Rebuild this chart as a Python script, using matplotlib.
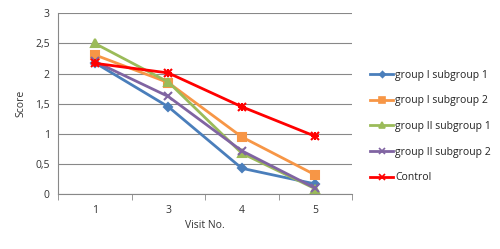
import numpy as np
import matplotlib.pyplot as plt
from matplotlib.lines import Line2D

visits = ["1", "3", "4", "5"]
g1_s1 = [2.18, 1.45, 0.43, 0.17]
g1_s2 = [2.31, 1.85, 0.95, 0.32]
g2_s1 = [2.50, 1.86, 0.68, 0.09]
g2_s2 = [2.20, 1.62, 0.72, 0.10]
control = [2.17, 2.01, 1.45, 0.96]
y_ticks = [0, 0.5, 1, 1.5, 2, 2.5, 3]
y_labels = ["0", "0,5", "1", "1,5", "2", "2,5", "3"]

series = [
    ("group I subgroup 1", g1_s1, "#4a7ebb", "D", 4),
    ("group I subgroup 2", g1_s2, "#f79646", "s", 6),
    ("group II subgroup 1", g2_s1, "#9bbb59", "^", 6),
    ("group II subgroup 2", g2_s2, "#8064a2", "x", 6),
    ("Control", control, "#ff0000", "x", 6),
]

plt.rcParams["font.family"] = ["Open Sans", "DejaVu Sans"]
fig = plt.figure(figsize=(5, 2.49), dpi=100)
ax = fig.add_axes([0.116, 0.22, 0.588, 0.727])

x = np.arange(len(visits))
for name, vals, col, mk, ms in series:
    if name == "Control":
        ax.plot(x, vals, color=col, lw=2, marker="x", ms=ms, mew=1.5, label=name)
        ax.plot(x, vals, color=col, lw=0, marker="+", ms=ms, mew=1.5)
    else:
        ax.plot(x, vals, color=col, lw=2, marker=mk, ms=ms, mew=1.5, label=name)

ax.set_xlim(-0.5, len(visits) - 0.5)
ax.set_ylim(0, 3)
ax.set_xticks(x)
ax.set_xticklabels(visits)
ax.set_xticks(np.arange(-0.5, len(visits)), minor=True)
ax.tick_params(axis="x", which="major", length=0, labelsize=7.5, pad=8, colors="#333333")
ax.tick_params(axis="x", which="minor", length=4, color="#888888")
ax.set_yticks(y_ticks)
ax.set_yticklabels(y_labels)
ax.tick_params(axis="y", length=0, labelsize=7.5, pad=6, colors="#333333")
ax.yaxis.grid(True, color="#888888", lw=0.8)
ax.set_axisbelow(True)
for s in ["top", "right"]:
    ax.spines[s].set_visible(False)
ax.spines["left"].set_color("#888888")
ax.spines["bottom"].set_color("#888888")
ax.set_xlabel("Visit No.", fontsize=7.5, color="#333333", labelpad=3)
ax.set_ylabel("Score", fontsize=7.5, color="#333333", labelpad=6)

handles = []
for name, vals, col, mk, ms in series:
    handles.append(Line2D([], [], color=col, lw=2, marker=mk, ms=ms - 1, mew=1.2, label=name))
fig.legend(handles=handles, loc="upper left", bbox_to_anchor=(0.722, 0.757), frameon=False,
           fontsize=7.5, handlelength=2.2, handletextpad=0.2, labelspacing=1.4,
           labelcolor="#222222")

fig.savefig("out.png", dpi=100)
